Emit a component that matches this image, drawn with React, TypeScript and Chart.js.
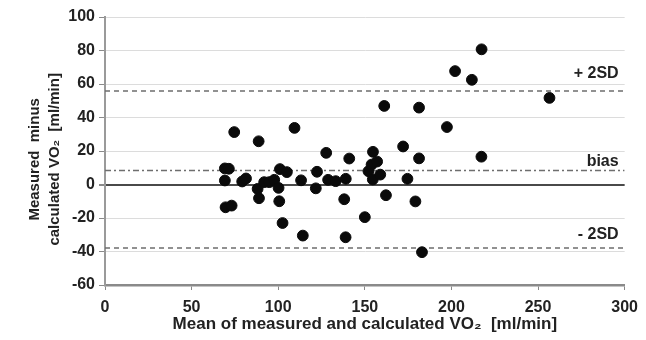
import React, { useEffect, useRef } from "react";
import { Chart, registerables } from "chart.js";

Chart.register(...registerables);

// Mean of measured and calculated VO2 [ml/min]
const meanVO2 = [
  69.2, 71.5, 69.2, 69.6, 73.1, 74.6, 79.2, 81.4, 88.1, 88.9,
  88.7, 91.9, 94.8, 97.7, 100.2, 100.6, 101, 105, 102.5, 109.4,
  113.2, 114.2, 121.7, 122.4, 127.7, 128.8, 133.2, 139, 138.1, 138.9,
  141, 150, 152.1, 153.9, 154.7, 157.1, 154.6, 158.9, 162.2, 161.2,
  172.1, 174.6, 179.2, 181.3, 181.3, 183, 197.4, 202.1, 211.8, 217.4,
  217.3, 256.6,
];
// Measured minus calculated VO2 [ml/min]
const diffVO2 = [
  9.6, 9.4, 2.4, -13.6, -12.6, 31.3, 1.8, 3.6, -2.6, -8.2,
  25.8, 1.4, 1.4, 2.8, -2, -10, 9.2, 7.4, -23, 33.8,
  2.5, -30.5, -2.3, 7.6, 18.9, 2.8, 2, 3.4, -8.8, -31.5,
  15.5, -19.5, 7.9, 11.9, 19.5, 13.7, 3, 5.9, -6.4, 46.9,
  22.7, 3.4, -10.1, 45.9, 15.6, -40.4, 34.3, 67.7, 62.5, 80.7,
  16.6, 51.7,
];

const refNames = ["+ 2SD", "bias", "- 2SD"];
const refValues = [55.8, 8.4, -37.9];
const refLabelY = [66.3, 13.9, -30];
const refDash = [[5, 4], [6, 3, 2, 3], [5, 4]];

const xTickMin = 0;
const xTickMax = 300;
const yTickMin = -60;
const yTickMax = 100;

const FONT = "'Liberation Sans', Arial, sans-serif";

export default function App() {
  const ref = useRef<HTMLCanvasElement | null>(null);

  useEffect(() => {
    document.body.style.margin = "0";
    const canvas = ref.current;
    if (!canvas) return;

    const points = meanVO2.map((x, i) => ({ x, y: diffVO2[i] }));

    const refDatasets = refValues.map((v, i) => ({
      type: "line" as const,
      label: refNames[i],
      data: [
        { x: xTickMin, y: v },
        { x: xTickMax, y: v },
      ],
      borderColor: "#6e6e6e",
      borderWidth: 1.5,
      borderDash: refDash[i],
      pointRadius: 0,
      fill: false,
      order: 2,
    }));

    const refLabelsPlugin = {
      id: "refLabels",
      afterDatasetsDraw(chart: any) {
        const { ctx, chartArea, scales } = chart;
        ctx.save();
        ctx.font = `bold 16px ${FONT}`;
        ctx.fillStyle = "#222";
        ctx.textAlign = "right";
        ctx.textBaseline = "middle";
        refNames.forEach((name, i) => {
          ctx.fillText(name, chartArea.right - 6, scales.y.getPixelForValue(refLabelY[i]));
        });
        ctx.restore();
      },
    };

    const chart = new Chart(canvas, {
      type: "scatter",
      data: {
        datasets: [
          {
            label: "VO2",
            data: points,
            backgroundColor: "#0a0a0a",
            borderColor: "#0a0a0a",
            pointRadius: 5.4,
            pointHoverRadius: 5.4,
            order: 0,
          } as any,
          ...(refDatasets as any[]),
        ],
      },
      options: {
        animation: false,
        responsive: false,
        maintainAspectRatio: false,
        layout: { padding: { left: 0, right: 21, top: 17, bottom: 0 } },
        plugins: {
          legend: { display: false },
          tooltip: { enabled: false },
        },
        scales: {
          x: {
            type: "linear",
            min: xTickMin,
            max: xTickMax,
            afterFit: (s: any) => {
              s.height = 55;
            },
            ticks: {
              stepSize: 50,
              color: "#222",
              font: { family: FONT, size: 16, weight: "bold" },
              padding: 8,
              maxRotation: 0,
            },
            grid: {
              drawOnChartArea: false,
              drawTicks: true,
              tickLength: 5,
              tickColor: "#888",
            },
            border: { color: "#8a8a8a", width: 2.5 },
            title: {
              display: true,
              text: "Mean of measured and calculated VO\u2082  [ml/min]",
              color: "#222",
              font: { family: FONT, size: 17, weight: "bold" },
              padding: { top: 0, bottom: 5 },
            },
          },
          y: {
            type: "linear",
            min: yTickMin,
            max: yTickMax,
            afterFit: (s: any) => {
              s.width = 105;
            },
            ticks: {
              stepSize: 20,
              color: "#222",
              font: { family: FONT, size: 16, weight: "bold" },
              padding: 4,
            },
            grid: {
              color: (c: any) => (c.tick && c.tick.value === 0 ? "#4a4a4a" : "#dcdcdc"),
              lineWidth: (c: any) => (c.tick && c.tick.value === 0 ? 2 : 1),
              tickColor: "#8a8a8a",
              tickLength: 6,
            },
            border: { color: "#9a9a9a", width: 2 },
            title: {
              display: true,
              text: ["Measured  minus    ", "calculated VO\u2082  [ml/min]    "],
              color: "#222",
              font: { family: FONT, size: 15, weight: "bold", lineHeight: 1.33 },
              padding: { top: 25, bottom: 0 },
            },
          },
        },
      } as any,
      plugins: [refLabelsPlugin],
    });

    return () => chart.destroy();
  }, []);

  return (
    <div style={{ width: 646, height: 340 }}>
      <canvas ref={ref} width={646} height={340} style={{ display: "block" }} />
    </div>
  );
}
